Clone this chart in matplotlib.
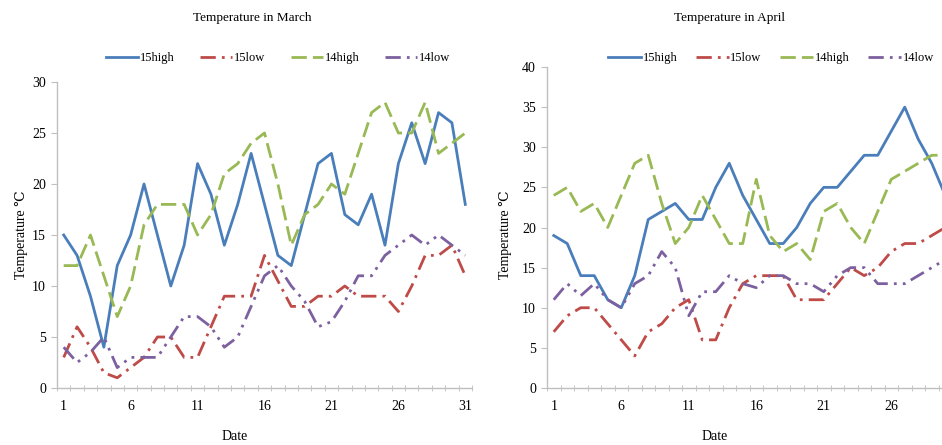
#!/usr/bin/env python3
# -*- coding: utf-8 -*-
"""Daily high/low temperatures for March and April, 2014 vs 2015."""

import matplotlib as mpl
import matplotlib.pyplot as plt

mpl.rcParams["font.family"] = ["Liberation Serif", "DejaVu Serif"]
mpl.rcParams["axes.unicode_minus"] = False

# =======================
# Data
# =======================
MARCH_DAYS = list(range(1, 32))
MARCH_15HIGH = [15, 13, 9, 4, 12, 15, 20, 15, 10, 14, 22, 19, 14, 18, 23, 18,
                13, 12, 17, 22, 23, 17, 16, 19, 14, 22, 26, 22, 27, 26, 18]
MARCH_15LOW = [3, 6, 4, 1.5, 1, 2, 3, 5, 5, 3, 3, 6, 9, 9, 9, 13,
               10.5, 8, 8, 9, 9, 10, 9, 9, 9, 7.5, 10, 13, 13, 14, 11]
MARCH_14HIGH = [12, 12, 15, 11, 7, 10, 16, 18, 18, 18, 15, 17, 21, 22, 24, 25,
                20, 14, 17, 18, 20, 19, 23, 27, 28, 25, 25, 28, 23, 24, 25]
MARCH_14LOW = [4, 2.5, 3.5, 5, 2, 3, 3, 3, 5, 7, 7, 6, 4, 5, 8, 11,
               12, 10, 8.5, 6, 6.5, 8.5, 11, 11, 13, 14, 15, 14, 15, 14, 13]

APRIL_DAYS = list(range(1, 31))
APRIL_15HIGH = [19, 18, 14, 14, 11, 10, 14, 21, 22, 23, 21, 21, 25, 28, 24,
                21, 18, 18, 20, 23, 25, 25, 27, 29, 29, 32, 35, 31, 28, 24]
APRIL_15LOW = [7, 9, 10, 10, 8, 6, 4, 7, 8, 10, 11, 6, 6, 10, 13,
               14, 14, 14, 11, 11, 11, 13, 15, 14, 15, 17, 18, 18, 19, 20]
APRIL_14HIGH = [24, 25, 22, 23, 20, 24, 28, 29, 23, 18, 20, 24, 21, 18, 18,
                26, 19, 17, 18, 16, 22, 23, 20, 18, 22, 26, 27, 28, 29, 29]
APRIL_14LOW = [11, 13, 11.5, 13, 11, 10, 13, 14, 17, 15, 9, 12, 12, 14, 13,
               12.5, 14, 14, 13, 13, 12, 14, 15, 15, 13, 13, 13, 14, 15, 16]

SERIES_NAMES = ["15high", "15low", "14high", "14low"]
XTICKS = [1, 6, 11, 16, 21, 26, 31]

# =======================
# Styles
# =======================
STYLES = [
    dict(color="#4a7ebb", linestyle="-"),
    dict(color="#be4b48", linestyle=(0, (5.5, 2.2, 1, 2.2))),
    dict(color="#98b954", linestyle=(0, (5.5, 2.2))),
    dict(color="#7d60a0", linestyle=(0, (5.5, 2.2, 1, 2.2, 1, 2.2))),
]
AXIS_GREY = "#bfbfbf"
FS = 10
FS_TITLE = 9.5
FS_LEG = 9


def draw_panel(fig, rect, days, series, ymax, title, title_x, leg_x, leg_gap,
               xlab_x, ylab_x):
    ax = fig.add_axes(rect)
    for name, vals, st in zip(SERIES_NAMES, series, STYLES):
        ax.plot(days, vals, lw=2.0, label=name, **st)

    ax.set_xlim(0.5, len(days) + 0.5)
    ax.set_ylim(0, ymax)
    ax.set_xticks([t for t in XTICKS if t <= len(days)])
    ax.set_xticks([d + 0.5 for d in range(0, len(days) + 1)], minor=True)
    ax.set_yticks(range(0, ymax + 1, 5))
    ax.tick_params(axis="x", which="major", length=0, pad=9, labelsize=FS)
    ax.tick_params(axis="x", which="minor", length=5, direction="inout",
                   color=AXIS_GREY)
    ax.tick_params(axis="y", length=4, color=AXIS_GREY, labelsize=FS, pad=4)

    for s in ("top", "right"):
        ax.spines[s].set_visible(False)
    for s in ("left", "bottom"):
        ax.spines[s].set_color(AXIS_GREY)
        ax.spines[s].set_linewidth(1.0)

    fig.text(title_x / 942, 1 - 18 / 445, title, ha="center", va="center",
             fontsize=FS_TITLE)
    fig.text(xlab_x / 942, 1 - 437 / 445, "Date", ha="center", va="center",
             fontsize=FS)
    fig.text(ylab_x / 942, 1 - 235 / 445, "Temperature \u2103", ha="center",
             va="center", rotation=90, fontsize=FS)

    ax.legend(loc="center", bbox_to_anchor=(leg_x / 942, 1 - 58 / 445),
              bbox_transform=fig.transFigure, ncol=4, frameon=False,
              fontsize=FS_LEG, handlelength=2.6, handletextpad=0.15,
              columnspacing=leg_gap)
    return ax


def main():
    fig = plt.figure(figsize=(9.42, 4.45), dpi=100)

    draw_panel(fig, [57 / 942, 57 / 445, 415 / 942, 306 / 445],
               MARCH_DAYS,
               [MARCH_15HIGH, MARCH_15LOW, MARCH_14HIGH, MARCH_14LOW],
               30, "Temperature in March", 252, 278, 2.0, 235, 22)

    draw_panel(fig, [547 / 942, 57 / 445, 405 / 942, 321 / 445],
               APRIL_DAYS,
               [APRIL_15HIGH, APRIL_15LOW, APRIL_14HIGH, APRIL_14LOW],
               40, "Temperature in April", 730, 771, 1.5, 715, 505)

    fig.savefig("out.png", dpi=100, facecolor="white")


if __name__ == "__main__":
    main()
